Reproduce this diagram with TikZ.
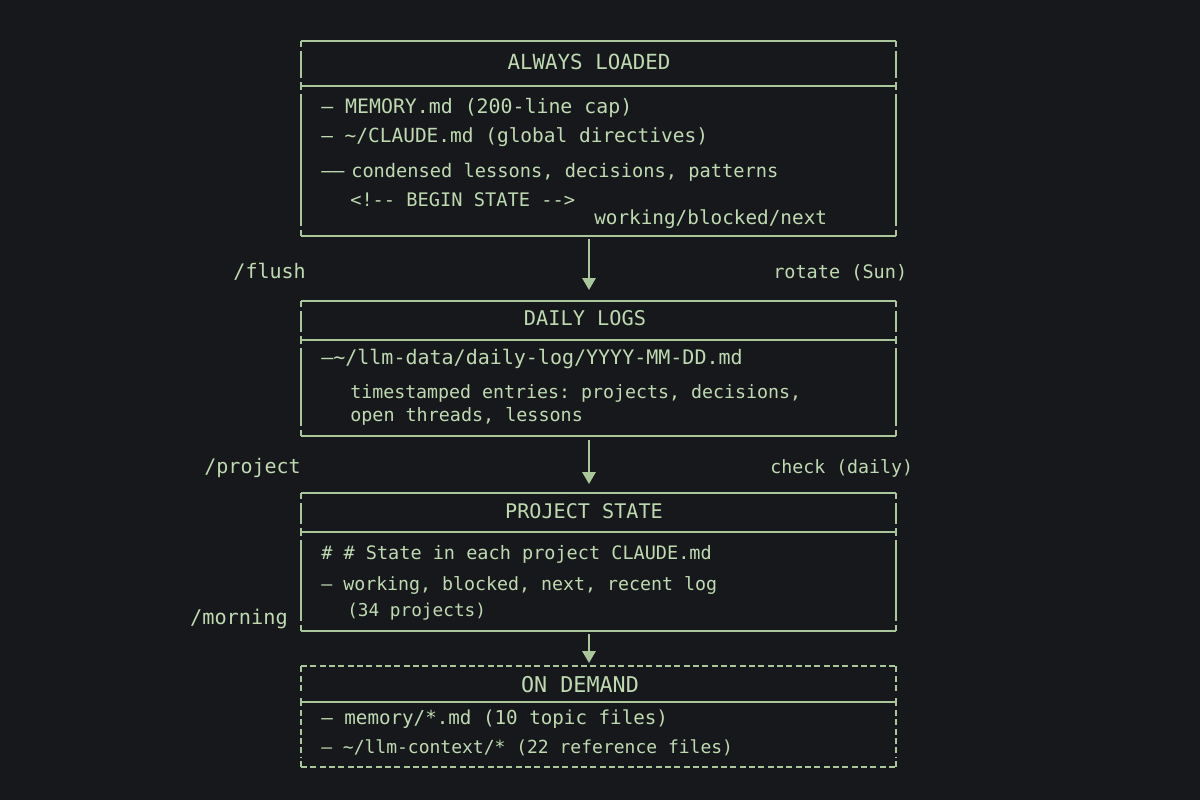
\documentclass[tikz,border=0pt]{standalone}
\usepackage{fontspec}
\setmonofont{DejaVu Sans Mono}
\usetikzlibrary{arrows.meta}
\definecolor{bg}{HTML}{16181C}
\definecolor{fg}{HTML}{BFDAB1}
\definecolor{ln}{HTML}{A9C79B}
\newcommand\asciibox[4]{%
  % #1 top, #2 separator, #3 bottom, #4 extra style for frame
  \draw[wall,#4] (301,#1) -- (896,#1);
  \draw[wall,#4] (301,#3) -- (896,#3);
  \draw[wall] (301,#2) -- (896,#2);
  \foreach \xx in {301,896}{
    \draw[wall] (\xx,#1) -- (\xx,{#1+6});
    \draw[wall] (\xx,{#2-4}) -- (\xx,{#2+4});
    \draw[wall] (\xx,{#3-6}) -- (\xx,#3);
    \draw[wall,#4] (\xx,{#1+10}) -- (\xx,{#2-8});
    \draw[wall,#4] (\xx,{#2+8}) -- (\xx,{#3-10});
  }%
}
\begin{document}
\begin{tikzpicture}[x=0.75pt,y=-0.75pt,
  txt/.style={inner sep=0pt,anchor=base west,text=fg,font=\ttfamily\fontsize{#1}{16}\selectfont},
  txt/.default=14.5,
  hdr/.style={inner sep=0pt,anchor=base,text=fg,font=\ttfamily\fontsize{#1}{17}\selectfont},
  hdr/.default=15,
  lbll/.style={inner sep=0pt,anchor=base east,text=fg,font=\ttfamily\fontsize{#1}{17}\selectfont},
  lbll/.default=15,
  lblr/.style={inner sep=0pt,anchor=base west,text=fg,font=\ttfamily\fontsize{#1}{17}\selectfont},
  lblr/.default=15,
  wall/.style={draw=ln,line width=1.5pt},
  dsh/.style={dash pattern=on 4.5pt off 2.5pt},
  arr/.style={draw=ln,line width=1.6pt,-{Triangle[width=10pt,length=9pt]}}]
\fill[bg] (0,0) rectangle (1200,800);
\useasboundingbox (0,0) rectangle (1200,800);

% boxes
\asciibox{41}{86}{236}{}
\asciibox{301}{340}{436}{}
\asciibox{493}{532}{631}{}
\asciibox{666}{702}{767}{dsh}

% box 1
\node[hdr=15.6] (h1) at (589,69) {ALWAYS LOADED};
\node[txt=14.9] (t11) at (321,113) {\textendash{} MEMORY.md (200-line cap)};
\node[txt=14.6] (t12) at (321,142) {\textendash{} \textasciitilde/CLAUDE.md (global directives)};
\node[txt] (t13a) at (321,177) {\textendash\textendash};
\node[txt=14] (t13) at (351,177) {condensed lessons, decisions, patterns};
\node[txt=14] (t14) at (350,206) {<!-{}- BEGIN STATE -{}->};
\node[txt] (t15) at (594,224) {working/blocked/next};

% box 2
\node[hdr=15.2] (h2) at (585,325) {DAILY LOGS};
\node[txt=15] (t21) at (321,364) {\textendash\textasciitilde/llm-data/daily-log/YYYY-MM-DD.md};
\node[txt=13.7] (t22) at (350,398) {timestamped entries: projects, decisions,};
\node[txt=13.8] (t23) at (350,421) {open threads, lessons};

% box 3
\node[hdr=15.1] (h3) at (584,518) {PROJECT STATE};
\node[txt=13.9] (t31) at (321,559) {\# \# State in each project CLAUDE.md};
\node[txt=13.7] (t32) at (321,590) {\textendash{} working, blocked, next, recent log};
\node[txt=13.3] (t33) at (347,616) {(34 projects)};

% box 4
\node[hdr=16.3] (h4) at (580,692) {ON DEMAND};
\node[txt=14.4] (t41) at (321,724) {\textendash{} memory/*.md (10 topic files)};
\node[txt=13.5] (t42) at (321,753) {\textendash{} \textasciitilde/llm-context/* (22 reference files)};

% side labels
\node[lbll] (l1) at (306,278) {/flush};
\node[lblr=13.9] (r1) at (773,278) {rotate (Sun)};
\node[lbll] (l2) at (301,473) {/project};
\node[lblr=13.7] (r2) at (770,473) {check (daily)};
\node[lbll=15.2] (l3) at (288,624) {/morning};

% connectors
\coordinate (b1) at (589,239);
\coordinate (b2t) at (589,290);
\coordinate (b2) at (589,440);
\coordinate (b3t) at (589,484);
\coordinate (b3) at (589,634);
\coordinate (b4t) at (589,663);
\draw[arr] (b1) -- (b2t);
\draw[arr] (b2) -- (b3t);
\draw[arr] (b3) -- (b4t);
\end{tikzpicture}
\end{document}
